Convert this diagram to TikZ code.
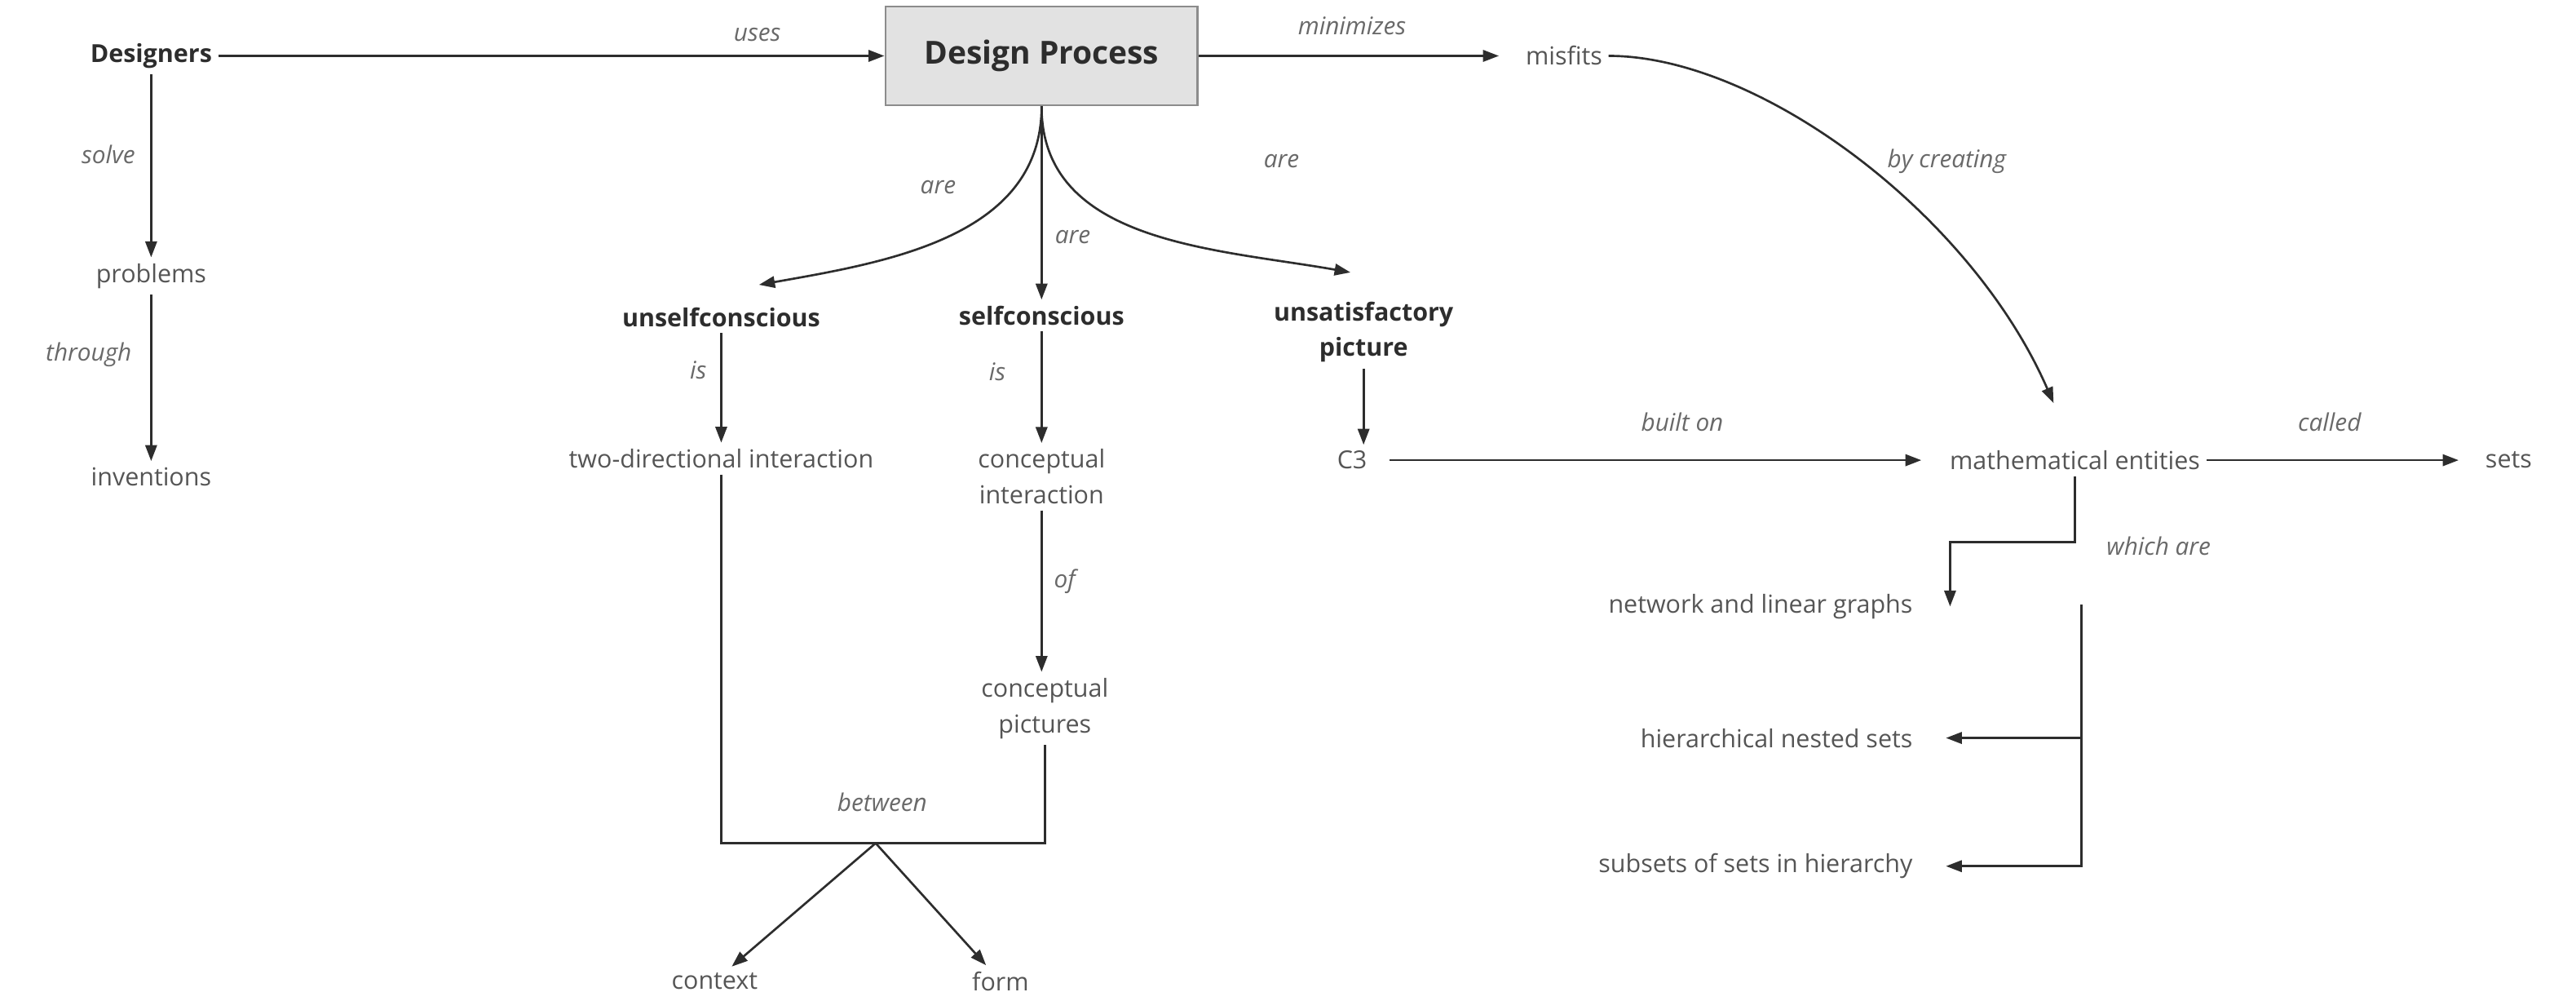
\documentclass[tikz,border=0pt]{standalone}
\usepackage{fontspec}
\setmainfont{Open Sans}
\usetikzlibrary{arrows.meta,positioning,calc}
\definecolor{conceptgray}{RGB}{85,85,85}
\definecolor{keydark}{RGB}{45,45,45}
\definecolor{linkgray}{RGB}{105,105,105}
\definecolor{edgegray}{RGB}{45,45,45}
\definecolor{boxfill}{RGB}{226,226,226}
\definecolor{boxline}{RGB}{140,140,140}

\begin{document}
\begin{tikzpicture}[x=0.2mm, y=0.2mm,
    concept/.style={font=\fontsize{8.6}{12.3}\selectfont, text=conceptgray,
                    align=center, inner sep=2pt},
    key/.style={concept, font=\fontsize{8.6}{12.3}\selectfont\bfseries, text=keydark},
    link/.style={font=\fontsize{8.4}{11}\selectfont\itshape, text=linkgray, inner sep=1pt},
    arr/.style={-{Triangle[length=5.5pt,width=4pt]}, line width=0.75pt, edgegray},
    ln/.style={line width=0.75pt, edgegray}]
    \useasboundingbox (0,0) rectangle (1568,-609);

    % concepts
    \node[key] (des) at (92,-34) {Designers};
    \node[draw=boxline, fill=boxfill, line width=0.8pt, minimum width=38mm,
          minimum height=12mm, font=\fontsize{11}{13}\selectfont\bfseries,
          text=keydark] (dp) at (634,-34) {Design Process};
    \node[concept] (mis) at (952,-34) {misfits};
    \node[concept] (prob) at (92,-168) {problems};
    \node[concept] (inv) at (92,-290) {inventions};
    \node[key] (unself) at (439,-193) {unselfconscious};
    \node[key] (self) at (634,-192) {selfconscious};
    \node[key] (unsat) at (830,-202) {unsatisfactory\\picture};
    \node[concept] (twodir) at (439,-279) {two-directional interaction};
    \node[concept] (cint) at (634,-290) {conceptual\\interaction};
    \node[concept] (cpic) at (636,-431) {conceptual\\pictures};
    \node[concept] (c3) at (823,-280) {C3};
    \node[concept] (math) at (1263,-280) {mathematical entities};
    \node[concept] (sets) at (1527,-280) {sets};
    \node[concept, anchor=east] (net) at (1168,-369) {network and linear graphs};
    \node[concept, anchor=east] (hier) at (1168,-449) {hierarchical nested sets};
    \node[concept, anchor=east] (sub) at (1168,-527) {subsets of sets in hierarchy};
    \node[concept] (ctx) at (435,-597) {context};
    \node[concept] (form) at (609,-597) {form};
    \coordinate (split) at (533,-513);
    \coordinate (wa) at (1267,-368);

    % linking words
    \node[link] (uses) at (461,-21) {uses};
    \node[link] (minim) at (823,-16) {minimizes};
    \node[link] (solve) at (66,-94) {solve};
    \node[link] (through) at (54,-216) {through};
    \node[link] (are1) at (571,-114) {are};
    \node[link] (are2) at (653,-144) {are};
    \node[link] (are3) at (780,-98) {are};
    \node[link] (is1) at (425,-225) {is};
    \node[link] (is2) at (607,-226) {is};
    \node[link] (of) at (648,-354) {of};
    \node[link] (betw) at (537,-488) {between};
    \node[link] (built) at (1024,-257) {built on};
    \node[link] (called) at (1418,-257) {called};
    \node[link] (bycr) at (1185,-98) {by creating};
    \node[link] (which) at (1314,-332) {which are};

    % top row
    \draw[arr] (des) -- (dp);
    \draw[arr, shorten >=2.5mm] (dp) -- (mis);
    \draw[arr] (mis.east) .. controls +(92,0) and +(-50,115) .. ($(math.north)+(-13,25)$);

    % left column
    \draw[arr] (des) -- (prob);
    \draw[arr] (prob) -- (inv);

    % kinds of design process
    \draw[arr] (dp.south) to[out=-90, in=10] ($(unself.north)+(23,10)$);
    \draw[arr] (dp) -- (self);
    \draw[arr] (dp.south) to[out=-90, in=170] ($(unsat.north)+(-8,14)$);
    \draw[arr] (unself) -- (twodir);
    \draw[arr] (self) -- (cint);
    \draw[arr] (cint.south) -- (cint.south |- cpic.north);
    \draw[arr] (unsat.south) -- (unsat.south |- c3.north);

    % context and form
    \draw[ln] (twodir.south) |- (split) -| (cpic.south);
    \draw[arr] (split) -- (ctx);
    \draw[arr] (split) -- (form);

    % entities
    \draw[arr, shorten <=2mm, shorten >=2.7mm] (c3) -- (math);
    \draw[arr, shorten >=2.5mm] (math) -- (sets);
    \draw[arr] (math.south) -- ++(0,-40) -| ([xshift=3.8mm]net.east);
    \draw[arr, shorten >=3.3mm] (wa) |- (hier.east);
    \draw[arr, shorten >=3.3mm] (wa) |- (sub.east);
\end{tikzpicture}
\end{document}
